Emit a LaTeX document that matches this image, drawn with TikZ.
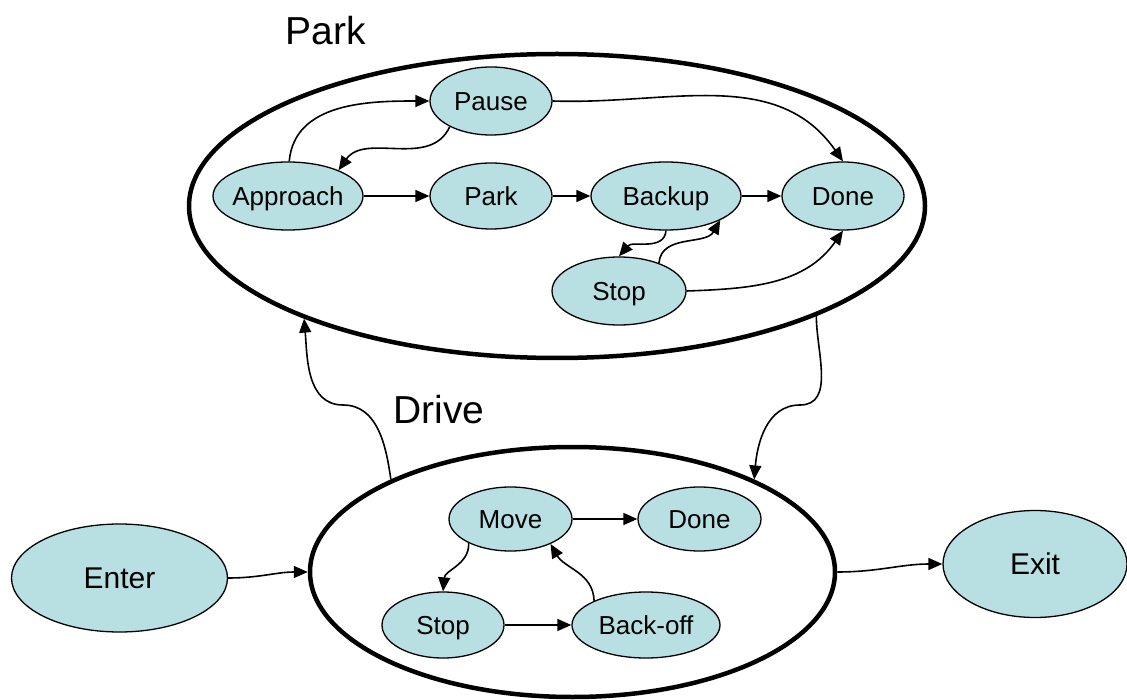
\documentclass[tikz,border=0pt]{standalone}
\usepackage{fontspec}
\setmainfont{Liberation Sans}
\usetikzlibrary{shapes.geometric,arrows.meta}
\definecolor{statefill}{RGB}{184,223,226}
\begin{document}
\begin{tikzpicture}[x=1pt,y=1pt,
  state/.style={ellipse, draw, line width=1.3pt, fill=statefill, inner xsep=-14pt, inner ysep=0pt,
    text height=18.6pt, text depth=0pt, font=\fontsize{26}{30}\selectfont},
  bigstate/.style={state, text height=21.5pt, font=\fontsize{30}{36}\selectfont},
  group/.style={ellipse, draw, line width=4.5pt, inner sep=0pt},
  grouplabel/.style={font=\fontsize{39}{46}\selectfont, inner sep=0pt},
  tr/.style={line width=1.6pt, -{Triangle[length=14pt,width=12pt]}},
]
\useasboundingbox (0,0) rectangle (1127,-700);

% composite states
\node[group, minimum width=736pt, minimum height=304pt] (parkgrp) at (557,-206) {};
\node[group, minimum width=525pt, minimum height=250pt] (drivegrp) at (572.5,-572) {};
\node[grouplabel] (parklabel) at (326,-31) {Park};
\node[grouplabel] (drivelabel) at (439,-410) {Drive};

% states inside Park
\node[state, minimum width=122pt, minimum height=68pt] (pause) at (491,-101) {Pause};
\node[state, minimum width=150pt, minimum height=68pt] (approach) at (288,-196) {Approach};
\node[state, minimum width=122pt, minimum height=66pt] (park) at (491,-196) {Park};
\node[state, minimum width=150pt, minimum height=68pt] (backup) at (666,-196) {Backup};
\node[state, minimum width=122pt, minimum height=68pt] (pdone) at (843,-196) {Done};
\node[state, minimum width=134pt, minimum height=68pt] (pstop) at (619,-291) {Stop};

% states inside Drive
\node[state, minimum width=123pt, minimum height=64pt] (move) at (510.5,-519) {Move};
\node[state, minimum width=123pt, minimum height=64pt] (ddone) at (699.5,-519) {Done};
\node[state, minimum width=122pt, minimum height=66pt] (dstop) at (443,-625) {Stop};
\node[state, minimum width=148pt, minimum height=66pt] (backoff) at (646,-625) {Back-off};

% entry and exit
\node[bigstate, minimum width=216pt, minimum height=108pt] (enter) at (119.5,-578) {Enter};
\node[bigstate, minimum width=184pt, minimum height=107pt] (exit) at (1035,-564) {Exit};

% transitions within Park
\draw[tr] (approach.88) to[out=85,in=180] (pause.180);
\draw[tr] (pause.212) to[out=-115,in=55] (approach.27);
\draw[tr] (approach) -- (park);
\draw[tr] (park) -- (backup);
\draw[tr] (backup) -- (pdone);
\draw[tr] (pause.0) to[out=-2,in=125] (pdone.90);
\draw[tr] (backup.-90) to[out=-95,in=50] (pstop.90);
\draw[tr] (pstop.35) to[out=85,in=-120] (backup.-24);
\draw[tr] (pstop.0) to[out=2,in=-125] (pdone.-90);

% transitions within Drive
\draw[tr] (move) -- (ddone);
\draw[tr] (move.210) to[out=-88,in=85] (dstop.90);
\draw[tr] (dstop) -- (backoff);
\draw[tr] (backoff.155) to[out=92,in=-60] (move.-32);

% transitions between composite states
\coordinate (dpbend) at (343,-405);
\coordinate (pdbend) at (800,-405);
\draw[tr] (drivegrp.153) to[out=98,in=0] (dpbend) to[out=180,in=-85] (parkgrp.204);
\draw[tr] (parkgrp.-23) to[out=-90,in=0] (pdbend) to[out=180,in=85] (drivegrp.27);
\draw[tr] (enter.0) to[out=0,in=180] (drivegrp.180);
\draw[tr] (drivegrp.0) to[out=0,in=180] (exit.180);
\end{tikzpicture}
\end{document}
